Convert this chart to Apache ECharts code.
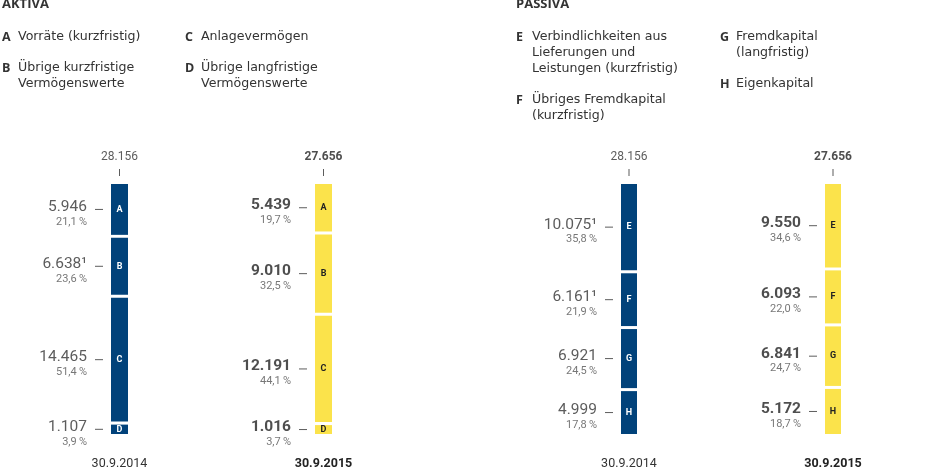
<!DOCTYPE html>
<html>
<head>
<meta charset="utf-8">
<script src="https://cdn.jsdelivr.net/npm/echarts@6/dist/echarts.min.js"></script>
<style>
  html, body { margin: 0; padding: 0; background: #fff; }
  #chart { width: 940px; height: 471px; }
</style>
</head>
<body>
<div id="chart"></div>
<script>
// data
const dates = ['30.9.2014', '30.9.2015'];
const totals = [28156, 27656];

const aktivaLetters = ['A', 'B', 'C', 'D'];
const aktivaNames = ['Vorräte (kurzfristig)', 'Übrige kurzfristige\nVermögenswerte', 'Anlagevermögen', 'Übrige langfristige\nVermögenswerte'];
const aktiva2014 = [5946, 6638, 14465, 1107];
const aktiva2015 = [5439, 9010, 12191, 1016];
const aktivaPct2014 = [21.1, 23.6, 51.4, 3.9];
const aktivaPct2015 = [19.7, 32.5, 44.1, 3.7];
const aktivaNote2014 = [false, true, false, false];

const passivaLetters = ['E', 'F', 'G', 'H'];
const passivaNames = ['Verbindlichkeiten aus\nLieferungen und\nLeistungen (kurzfristig)', 'Übriges Fremdkapital\n(kurzfristig)', 'Fremdkapital\n(langfristig)', 'Eigenkapital'];
const passiva2014 = [10075, 6161, 6921, 4999];
const passiva2015 = [9550, 6093, 6841, 5172];
const passivaPct2014 = [35.8, 21.9, 24.5, 17.8];
const passivaPct2015 = [34.6, 22.0, 24.7, 18.7];
const passivaNote2014 = [true, true, false, false];

const BLUE = '#01427a';
const YELLOW = '#fbe34b';
const TEXT = '#333';
const FONT = 'Roboto, sans-serif';
const HEAD_FONT = '"Open Sans", sans-serif';
const LEGEND_FONT = '"DejaVu Sans", sans-serif';
const GAP = 3;

const fmtNum = v => String(v).replace(/\B(?=(\d{3})+(?!\d))/g, '.');
const fmtPct = v => v.toFixed(1).replace('.', ',') + '\u2009%';

var chart = echarts.init(document.getElementById('chart'));

var titles = [];
var grids = [];
var xAxes = [];
var yAxes = [];
var series = [];

function addLegend(x, colGap, heading, letters, names) {
    titles.push({
        text: heading, left: x, top: -2, padding: 0,
        textStyle: { fontFamily: HEAD_FONT, fontSize: 13, fontWeight: 'bold', color: TEXT }
    });
    var half = letters.length / 2;
    var colX = [x, x + colGap];
    for (var c = 0; c < 2; c++) {
        var y = 29;
        for (var i = c * half; i < (c + 1) * half; i++) {
            titles.push({
                text: letters[i], left: colX[c], top: y, padding: 0,
                textStyle: { fontFamily: HEAD_FONT, fontSize: 12.5, fontWeight: 'bold', color: TEXT, lineHeight: 16 }
            });
            titles.push({
                text: names[i], left: colX[c] + 16, top: y, padding: 0,
                textStyle: { fontFamily: LEGEND_FONT, fontSize: 12.6, fontWeight: 'normal', color: TEXT, lineHeight: 16 }
            });
            y += names[i].split('\n').length * 16 + 15;
        }
    }
}

function addPanel(g, left, barW, letters, vals, pcts, notes) {
    // segments share 241px, the three white gaps add 9px
    grids.push({ left: left, top: 184, width: 408, height: 241 });
    xAxes.push({
        type: 'category', gridIndex: g, data: dates,
        axisLine: { show: false }, axisTick: { show: false },
        axisLabel: {
            margin: 32, fontFamily: FONT, fontSize: 12.5, color: TEXT,
            formatter: (v, i) => i === 1 ? '{b|' + v + '}' : v,
            rich: { b: { fontFamily: FONT, fontSize: 12.5, fontWeight: 'bold', color: '#222' } }
        }
    });
    yAxes.push({ type: 'value', gridIndex: g, min: 0, max: 100, inverse: true, show: false });

    var segData = [];
    var labelData = [];
    for (var c = 0; c < 2; c++) {
        var acc = 0;
        for (var i = 0; i < letters.length; i++) {
            segData.push([c, acc, acc + pcts[c][i], i]);
            var mid = acc + pcts[c][i] / 2;
            acc += pcts[c][i];
            var txt = fmtNum(vals[c][i]) + (c === 0 && notes[i] ? '¹' : '');
            labelData.push({
                value: [c, mid],
                symbolOffset: [-(barW / 2 + 12), i * GAP],
                label: { formatter: '{' + (c === 0 ? 'v' : 'vb') + '|' + txt + '}\n{p|' + fmtPct(pcts[c][i]) + '}' }
            });
        }
    }

    series.push({
        type: 'custom', xAxisIndex: g, yAxisIndex: g,
        encode: { x: 0, y: [1, 2] },
        data: segData,
        renderItem: function (params, api) {
            var c = api.value(0), k = api.value(3);
            var p0 = api.coord([c, api.value(1)]);
            var p1 = api.coord([c, api.value(2)]);
            return {
                type: 'rect',
                shape: { x: p0[0] - barW / 2, y: p0[1] + k * GAP, width: barW, height: p1[1] - p0[1] },
                style: { fill: c === 0 ? BLUE : YELLOW },
                textContent: {
                    style: {
                        text: letters[k], fill: c === 0 ? '#fff' : '#222',
                        fontFamily: FONT, fontSize: 9, fontWeight: 'bold'
                    }
                },
                textConfig: { position: 'inside' }
            };
        }
    });

    // value + percent labels with a short dash at segment middles
    series.push({
        type: 'scatter', xAxisIndex: g, yAxisIndex: g,
        symbol: 'rect', symbolSize: [8, 1],
        itemStyle: { color: TEXT },
        label: {
            show: true, position: 'left', distance: 8, offset: [0, 4],
            rich: {
                v: { fontFamily: FONT, fontSize: 15.5, lineHeight: 17, color: TEXT, align: 'right' },
                vb: { fontFamily: FONT, fontSize: 15.5, lineHeight: 17, fontWeight: 'bold', color: '#222', align: 'right' },
                p: { fontFamily: FONT, fontSize: 11, lineHeight: 13, color: '#555', align: 'right' }
            }
        },
        data: labelData
    });

    // totals above the bars with a small tick
    series.push({
        type: 'scatter', xAxisIndex: g, yAxisIndex: g,
        symbol: 'rect', symbolSize: [1, 7], symbolOffset: [0, -11.5],
        itemStyle: { color: TEXT },
        label: {
            show: true, position: 'top', distance: 6,
            fontFamily: FONT, fontSize: 12, color: TEXT,
            formatter: p => p.dataIndex === 1 ? '{b|' + fmtNum(totals[1]) + '}' : fmtNum(totals[0]),
            rich: { b: { fontFamily: FONT, fontSize: 12, fontWeight: 'bold', color: '#222' } }
        },
        data: [[0, 0], [1, 0]]
    });
}

addLegend(2, 183, 'AKTIVA', aktivaLetters, aktivaNames);
addLegend(516, 204, 'PASSIVA', passivaLetters, passivaNames);
addPanel(0, 17.5, 17, aktivaLetters, [aktiva2014, aktiva2015], [aktivaPct2014, aktivaPct2015], aktivaNote2014);
addPanel(1, 527, 16, passivaLetters, [passiva2014, passiva2015], [passivaPct2014, passivaPct2015], passivaNote2014);

var option = {
    animation: false,
    backgroundColor: '#fff',
    textStyle: { fontFamily: FONT },
    title: titles,
    grid: grids,
    xAxis: xAxes,
    yAxis: yAxes,
    series: series
};
option && chart.setOption(option);
</script>
</body>
</html>
